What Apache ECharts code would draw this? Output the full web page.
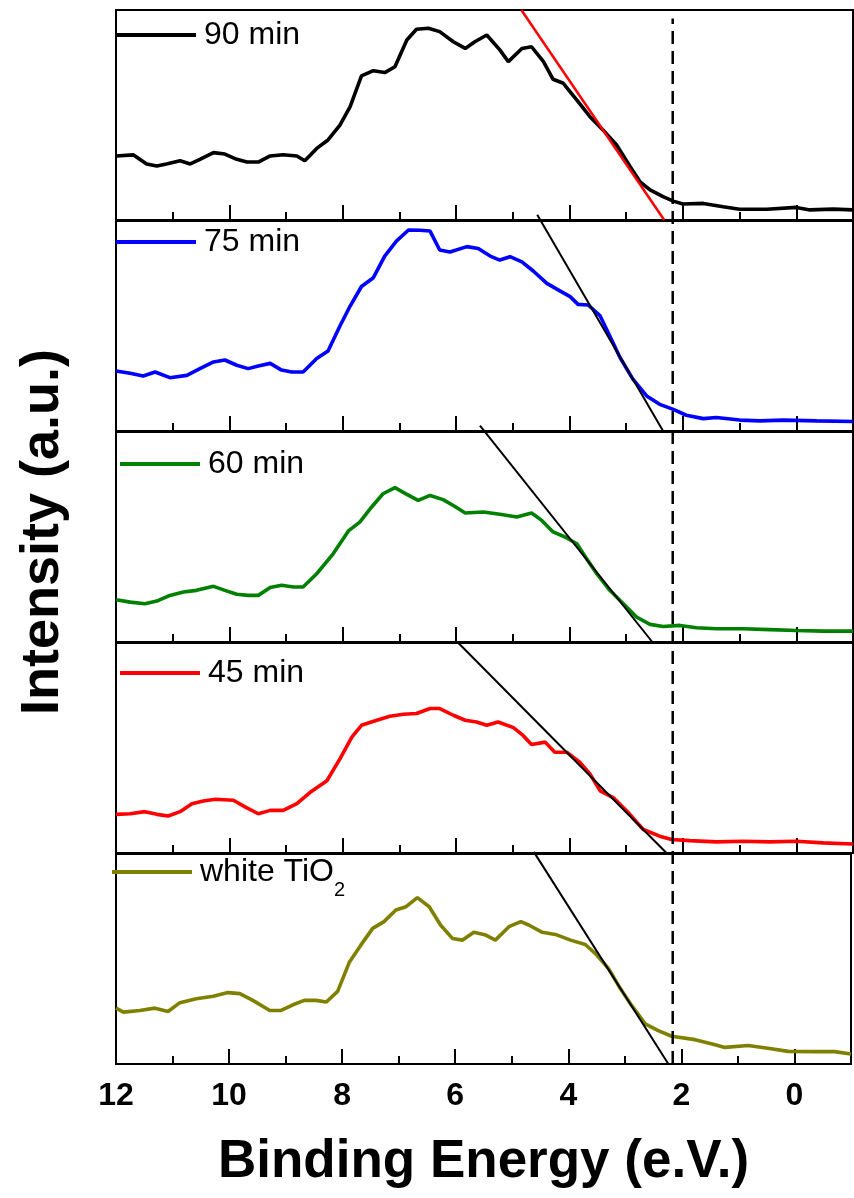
<!DOCTYPE html>
<html><head><meta charset="utf-8">
<script src="https://cdn.jsdelivr.net/npm/echarts@6/dist/echarts.min.js"></script>
<style>html,body{margin:0;padding:0;background:#fff}#c{width:854px;height:1198px}</style>
</head><body><div id="c"></div>
<script>
// ---- data (binding energy in eV, intensity in a.u. = % of panel height) ----
const seriesNames = ['90 min', '75 min', '60 min', '45 min', 'white TiO2'];
const seriesColors = ['#000000', '#0000ff', '#008000', '#ff0000', '#808000'];
const xTickLabels = [12, 10, 8, 6, 4, 2, 0];

const be90 = [12.0,11.69,11.46,11.28,11.11,10.87,10.69,10.52,10.28,10.08,9.87,9.69,9.49,9.28,9.05,8.81,8.67,8.46,8.26,8.05,7.87,7.67,7.46,7.26,7.08,6.87,6.70,6.49,6.29,6.05,5.84,5.67,5.46,5.23,5.08,4.84,4.67,4.46,4.29,4.11,3.87,3.64,3.41,3.17,2.93,2.76,2.58,2.35,2.17,2.0,1.64,1.29,1.0,0.52,0.0,-0.24,-0.65,-1.0];
const in90 = [30.5,31.0,26.7,25.7,26.7,28.2,26.7,28.9,32.1,31.4,28.9,27.6,27.6,30.5,31.1,30.5,28.2,34.1,38.1,45.2,54.0,68.6,71.1,70.2,73.0,85.7,90.8,91.3,89.7,84.9,81.7,84.9,88.1,81.0,75.4,81.7,82.5,75.4,67.0,65.1,57.1,49.2,42.9,35.7,25.4,18.3,14.3,11.1,9.0,7.6,7.9,6.3,5.1,5.1,6.0,4.8,5.2,4.8];

const be75 = [12,11.75,11.52,11.31,11.05,10.75,10.52,10.28,10.08,9.87,9.67,9.49,9.28,9.08,8.90,8.70,8.46,8.26,8.05,7.87,7.67,7.46,7.26,7.05,6.84,6.64,6.46,6.29,6.11,5.81,5.61,5.40,5.23,5.05,4.84,4.64,4.40,4.17,3.99,3.85,3.67,3.46,3.29,3.11,2.88,2.64,2.41,2.17,1.94,1.64,1.41,1.0,0.64,0.23,-0.36,-1.0];
const in75 = [28.6,27.5,26.2,28.1,25.4,26.5,29.7,32.9,33.8,31.3,29.7,31.0,32.2,29.0,28.1,28.1,34.5,38.1,50.0,59.5,68.8,73.0,83.3,90.5,95.7,95.6,95.2,86.2,85.2,87.8,86.9,83.3,81.4,83.0,80.5,76.2,70.3,66.7,64.0,60.3,60.0,54.8,45.2,35.0,24.6,16.7,12.7,10.3,7.5,5.9,6.4,5.2,4.8,5.2,4.8,4.5];

const be60 = [12,11.75,11.49,11.28,11.05,10.81,10.58,10.28,10.08,9.87,9.67,9.49,9.28,9.08,8.87,8.70,8.46,8.17,7.90,7.70,7.49,7.29,7.08,6.87,6.67,6.46,6.23,6.05,5.84,5.52,5.23,4.93,4.67,4.49,4.29,4.08,3.87,3.70,3.52,3.29,3.05,2.82,2.58,2.35,2.05,1.76,1.41,0.94,0.47,0.0,-0.47,-1.0];
const in60 = [20.1,19.0,18.2,19.5,22.2,23.8,24.6,26.5,24.6,22.7,22.2,22.2,25.9,27.0,26.2,26.2,32.5,42.0,52.9,57.1,64.3,70.6,73.5,70.3,67.4,69.8,67.8,65.0,61.4,61.9,60.8,59.5,61.4,57.9,52.4,50.0,46.8,39.7,32.5,24.6,18.2,11.9,8.4,7.4,7.9,6.8,6.3,6.3,5.9,5.5,5.2,5.2];

const be45 = [12,11.75,11.49,11.28,11.08,10.87,10.66,10.46,10.25,9.93,9.70,9.49,9.28,9.05,8.81,8.58,8.28,8.05,7.84,7.67,7.40,7.17,6.93,6.70,6.46,6.29,6.05,5.84,5.64,5.46,5.26,4.99,4.82,4.67,4.43,4.26,4.05,3.82,3.64,3.46,3.23,2.99,2.70,2.41,2.20,1.88,1.41,0.94,0.47,0.0,-0.47,-1.0];
const in45 = [18.4,18.7,19.7,18.4,17.6,19.7,23.5,24.8,25.6,25.1,21.6,18.7,20.3,20.3,23.5,28.8,34.4,44.8,55.2,60.8,63.2,65.1,66.1,66.4,68.8,68.8,65.6,63.2,62.4,60.8,62.4,59.7,56.0,51.7,52.8,48.0,48.0,43.2,37.6,29.6,26.4,20.0,11.2,8.0,6.4,5.9,5.3,5.6,5.3,5.6,4.8,4.3];

const beW = [12,11.87,11.58,11.31,11.08,10.87,10.58,10.28,10.02,9.81,9.58,9.28,9.08,8.87,8.67,8.46,8.28,8.08,7.87,7.67,7.46,7.26,7.05,6.87,6.67,6.46,6.26,6.05,5.87,5.67,5.46,5.29,5.05,4.84,4.70,4.46,4.23,3.96,3.70,3.52,3.29,3.08,2.88,2.64,2.41,2.17,1.76,1.47,1.23,0.82,0.47,0.11,-0.36,-0.71,-1.0];
const inW = [26.6,24.7,25.5,26.6,25.0,29.2,31.1,32.3,34.0,33.5,30.3,25.5,25.5,28.2,30.3,30.3,29.5,34.6,48.6,56.6,64.6,67.8,73.3,74.9,79.2,74.9,66.2,59.8,59.0,62.7,61.4,59.0,65.4,67.8,66.2,62.7,61.7,59.0,56.9,52.6,45.5,35.9,27.9,19.1,15.9,13.2,11.6,9.6,7.9,8.8,7.5,6.0,5.9,5.9,4.8];

// linear band-edge extrapolation lines (energy endpoints, intensity endpoints)
const tanE = [[4.85, 2.33], [4.57, 2.35], [5.58, 2.54], [5.96, 2.29], [4.61, 2.23]];
const tanI = [[100, 0], [103, 0], [103, 0], [100, 0], [101, 0]];
const tanColors = ['#ff0000', '#000000', '#000000', '#000000', '#000000'];
const fermiGuideE = 2.18;

// ---- layout ----
const FONT = '"Liberation Sans", Arial, Helvetica, sans-serif';
const panelTop = [10, 221, 432, 643, 854];
const panelH = 210;
const plotLeft = 116, plotW = 737;
const legendLeft = [116, 116, 120, 120, 112];
const legendMid = [35, 242, 464, 673, 871];

const energies = [be90, be75, be60, be45, beW];
const intensities = [in90, in75, in60, in45, inW];

const grids = [], xAxes = [], yAxes = [], series = [], legends = [];
for (let p = 0; p < 5; p++) {
  grids.push({ left: plotLeft, width: plotW, top: panelTop[p], height: panelH, show: true,
    borderColor: '#000', borderWidth: 2, backgroundColor: 'transparent' });
  const last = p === 4;
  // major axis (labels + long ticks)
  xAxes.push({ gridIndex: p, type: 'value', position: 'bottom', min: -1, max: 12, inverse: true, splitNumber: 6,
    axisLine: { show: false }, splitLine: { show: false },
    axisTick: { show: true, inside: true, length: 15, lineStyle: { color: '#000', width: 2 } },
    axisLabel: { show: last, margin: 16, fontSize: 32, fontWeight: 'bold', color: '#000', fontFamily: FONT,
      formatter: v => xTickLabels.includes(v) ? String(v) : '' },
    name: last ? 'Binding Energy (e.V.)' : '', nameLocation: 'middle', nameGap: 72,
    nameTextStyle: { fontSize: 53, fontWeight: 'bold', color: '#000', fontFamily: FONT } });
  // minor axis (short ticks every 1 eV)
  xAxes.push({ gridIndex: p, type: 'value', position: 'bottom', min: -1, max: 12, inverse: true, interval: 1,
    axisLine: { show: false }, splitLine: { show: false }, axisLabel: { show: false },
    axisTick: { show: true, inside: true, length: 8, lineStyle: { color: '#000', width: 2 } } });
  yAxes.push({ gridIndex: p, type: 'value', min: 0, max: 100, show: false });

  series.push({ name: seriesNames[p], type: 'line', xAxisIndex: 2 * p, yAxisIndex: p,
    data: energies[p].map((e, i) => [e, intensities[p][i]]),
    symbol: 'none', lineStyle: { color: seriesColors[p], width: 3.6 }, itemStyle: { color: seriesColors[p] },
    z: 2, silent: true, animation: false });
  series.push({ name: 'tangent' + p, type: 'line', xAxisIndex: 2 * p, yAxisIndex: p,
    data: tanE[p].map((e, i) => [e, tanI[p][i]]), clip: false,
    symbol: 'none', lineStyle: { color: tanColors[p], width: tanColors[p] === '#ff0000' ? 2.5 : 2 },
    z: 3, silent: true, animation: false });

  const isTi = p === 4;
  legends.push({ data: [{ name: seriesNames[p], icon: 'rect' }], left: legendLeft[p], top: legendMid[p] - (isTi ? 15 : 16), padding: 0,
    itemWidth: 80, itemHeight: 4, selectedMode: false,
    itemStyle: { color: seriesColors[p], borderWidth: 0 },
    formatter: n => isTi ? '{a|white TiO}{s|2}' : n,
    textStyle: { fontSize: 32, color: '#000', fontFamily: FONT, padding: [0, 0, 0, 3],
      rich: { a: { fontSize: 32, fontFamily: FONT, color: '#000', verticalAlign: 'top', padding: [12, 0, 0, 0] },
              s: { fontSize: 20, fontFamily: FONT, color: '#000', verticalAlign: 'bottom', padding: [36, 0, 0, 0] } } } });
}
// overlay grid for the vertical dashed guide and the y title
grids.push({ left: plotLeft, width: plotW, top: 10, height: 1054, show: false });
xAxes.push({ gridIndex: 5, type: 'value', min: -1, max: 12, inverse: true, show: false });
yAxes.push({ gridIndex: 5, type: 'value', min: 0, max: 100, axisLine: { show: false }, axisTick: { show: false },
  axisLabel: { show: false }, splitLine: { show: false },
  name: 'Intensity (a.u.)', nameLocation: 'middle', nameGap: 46,
  nameTextStyle: { fontSize: 54, fontWeight: 'bold', color: '#000', fontFamily: FONT, padding: [0, 0, 0, 10] } });
series.push({ name: 'guide', type: 'line', xAxisIndex: 10, yAxisIndex: 5,
  data: [[fermiGuideE, 0], [fermiGuideE, 99.2]], symbol: 'none',
  lineStyle: { color: '#000', width: 2.5, type: [13, 7] }, z: 4, silent: true, animation: false });

const chart = echarts.init(document.getElementById('c'), null, { renderer: 'canvas' });
chart.setOption({ backgroundColor: '#fff', animation: false, grid: grids, xAxis: xAxes, yAxis: yAxes,
  series: series, legend: legends, tooltip: { show: false } });
</script></body></html>
